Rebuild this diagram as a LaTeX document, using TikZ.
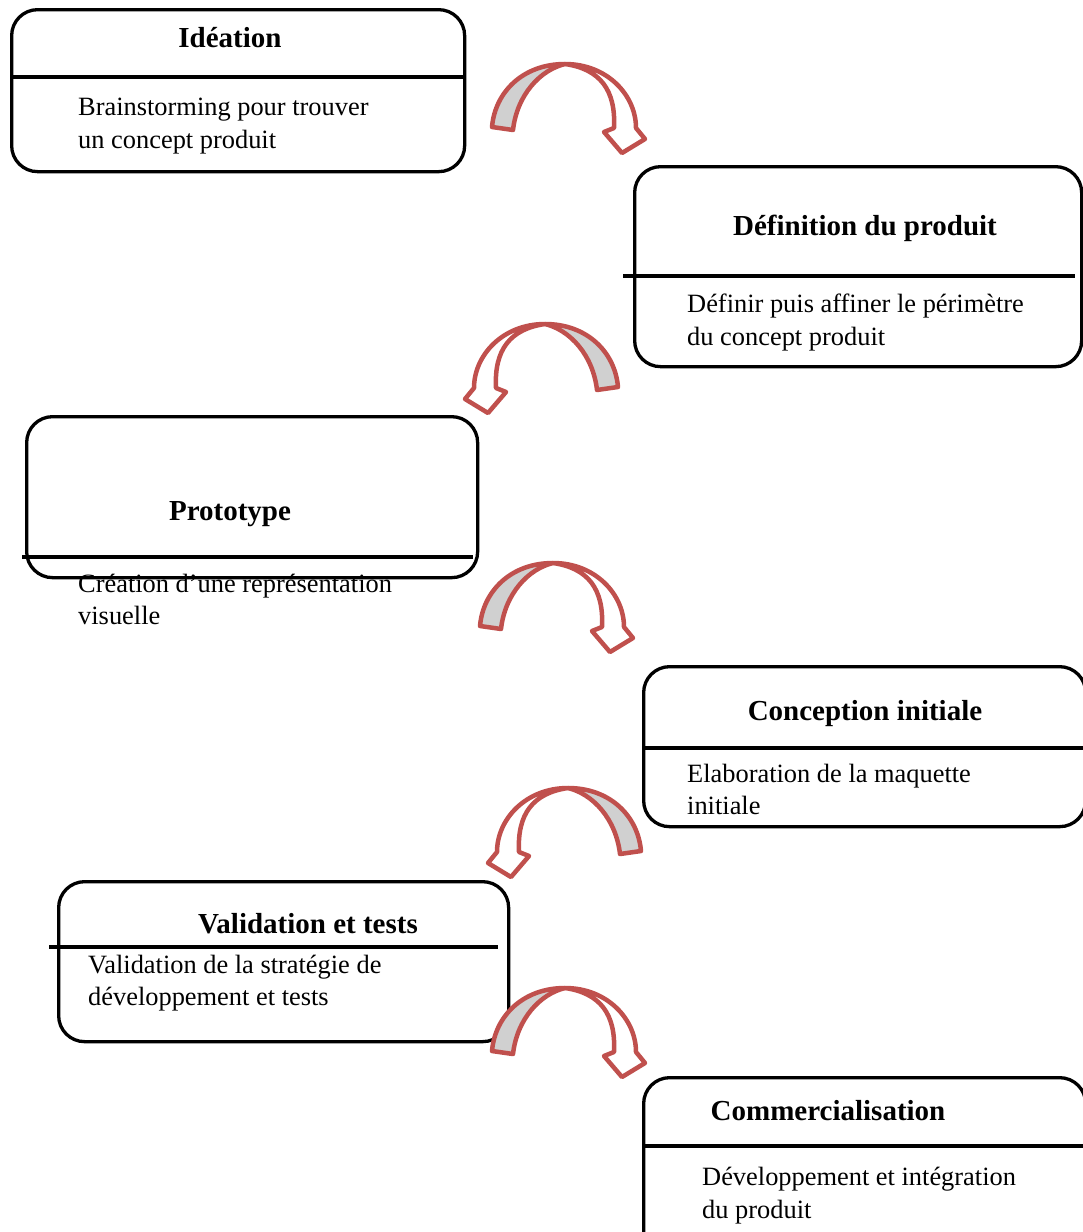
\documentclass[tikz,border=0pt]{standalone}
\usepackage{fontspec}
\setmainfont{Liberation Serif}
\definecolor{arrowred}{HTML}{C0504D}
\definecolor{arrowgray}{HTML}{D0D0D0}
\tikzset{
  stagebox/.style={draw=black, line width=3.3pt, rounded corners=26pt, inner sep=0pt, anchor=north west},
  divider/.style={draw=black, line width=3.3pt},
  stagetitle/.style={font=\fontsize{29}{34}\selectfont\bfseries, anchor=base, inner sep=0pt},
  stagetext/.style={font=\fontsize{26.4}{33}\selectfont, anchor=base west, inner sep=0pt},
  arrowline/.style={draw=arrowred, line width=4.5pt, line join=round},
  % curved block arrow: grey back ribbon on the left, white front ribbon with head on the right
  pics/bendarrow/.style={code={
    \draw[arrowline, fill=white]
      (0,-76) .. controls (42,-76) and (71,-45) .. (71,-12)
      -- (80,-1) -- (57,13) -- (39,-8) -- (49,-12)
      .. controls (51,-50) and (35,-71) .. cycle;
    \draw[arrowline, fill=arrowgray]
      (-73,-13) .. controls (-70,-48) and (-42,-76) .. (0,-76)
      .. controls (-25,-70) and (-48,-45) .. (-52,-10) -- cycle;
  }}
}
\begin{document}
\begin{tikzpicture}[x=1pt, y=-1pt]
  \useasboundingbox (0,0) rectangle (1083,1232);
  \clip (0,0) rectangle (1083,1232);

  % stage frames
  \node[stagebox, minimum width=453pt, minimum height=162pt] (ideation) at (10,8) {};
  \node[stagebox, minimum width=447pt, minimum height=200pt] (definition) at (633,165) {};
  \node[stagebox, minimum width=451pt, minimum height=161pt] (prototype) at (25,415) {};
  \node[stagebox, minimum width=442pt, minimum height=160pt] (conception) at (642,665) {};
  \node[stagebox, minimum width=450pt, minimum height=160pt] (validation) at (57,880) {};
  \node[stagebox, minimum width=442pt, minimum height=180pt] (commercial) at (642,1076) {};

  % header separators
  \draw[divider] (10,77) -- (463,77);
  \draw[divider] (623,276) -- (1075,276);
  \draw[divider] (22,557) -- (473,557);
  \draw[divider] (642,748) -- (1084,748);
  \draw[divider] (49,947) -- (498,947);
  \draw[divider] (642,1146) -- (1084,1146);

  % titles
  \node[stagetitle] (t1) at (230,47) {Idéation};
  \node[stagetitle] (t2) at (865,235) {Définition du produit};
  \node[stagetitle] (t3) at (230,520) {Prototype};
  \node[stagetitle] (t4) at (865,720) {Conception initiale};
  \node[stagetitle] (t5) at (308,933) {Validation et tests};
  \node[stagetitle] (t6) at (828,1120) {Commercialisation};

  % descriptions
  \node[stagetext] (d1a) at (78,115) {Brainstorming pour trouver};
  \node[stagetext] (d1b) at (78,148) {un concept produit};
  \node[stagetext] (d2a) at (687,312) {Définir puis affiner le périmètre};
  \node[stagetext] (d2b) at (687,345) {du concept produit};
  \node[stagetext] (d3a) at (78,592) {Création d’une représentation};
  \node[stagetext] (d3b) at (78,624) {visuelle};
  \node[stagetext] (d4a) at (687,782) {Elaboration de la maquette};
  \node[stagetext] (d4b) at (687,814) {initiale};
  \node[stagetext] (d5a) at (88,973) {Validation de la stratégie de};
  \node[stagetext] (d5b) at (88,1005) {développement et tests};
  \node[stagetext] (d6a) at (702,1185) {Développement et intégration};
  \node[stagetext] (d6b) at (702,1218) {du produit};

  % transitions between stages
  \pic (a1) at (565,140) {bendarrow};
  \pic[xscale=-1] (a2) at (545,400) {bendarrow};
  \pic (a3) at (553,639) {bendarrow};
  \pic[xscale=-1] (a4) at (568,864) {bendarrow};
  \pic (a5) at (565,1064) {bendarrow};
\end{tikzpicture}
\end{document}
